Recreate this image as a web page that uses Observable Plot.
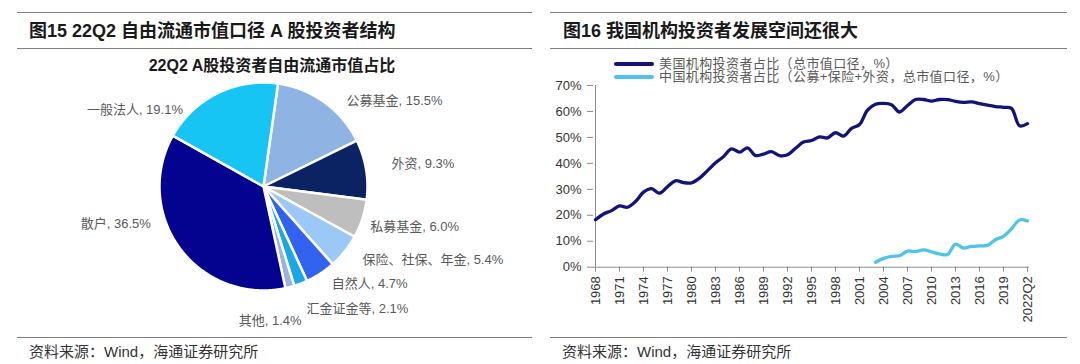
<!DOCTYPE html>
<html><head><meta charset="utf-8">
<script src="https://cdn.jsdelivr.net/npm/d3@7"></script>
<script src="https://cdn.jsdelivr.net/npm/@observablehq/plot@0.6"></script>
<style>
html,body{margin:0;padding:0;background:#fff;}
body{width:1080px;height:364px;overflow:hidden;position:relative;font-family:"Liberation Sans","Noto Sans CJK SC",sans-serif;}
.rule{position:absolute;height:0;border-top:1.5px solid #7f7f7f;}
.title{position:absolute;font-size:18px;font-weight:bold;color:#1a1a1a;white-space:nowrap;line-height:18px;}
.src{position:absolute;font-size:15px;color:#333;white-space:nowrap;line-height:15px;}
.pt{position:absolute;font-size:16px;font-weight:bold;color:#1a1a1a;white-space:nowrap;line-height:16px;text-align:center;}
.box{position:absolute;}
.lg{position:absolute;font-size:13px;color:#595959;white-space:nowrap;line-height:13px;letter-spacing:0.4px;}
.sw{position:absolute;height:4px;width:40px;border-radius:2px;}
</style></head>
<body>
<script>
// ---------- data: left pie ----------
const pieTitle = "22Q2 A股投资者自由流通市值占比";
const pieNames = ["公募基金","外资","私募基金","保险、社保、年金","自然人","汇金证金等","其他","散户","一般法人"];
const pieValues = [15.5, 9.3, 6.0, 5.4, 4.7, 2.1, 1.4, 36.5, 19.1];
const pieColors = ["#8DB4E2","#0C2363","#BEBEBE","#9CC8F8","#3163F0","#18A8E6","#9DB0DF","#03038F","#17C5F4"];

// ---------- data: right lines ----------
const categories = ["1968","1969","1970","1971","1972","1973","1974","1975","1976","1977","1978","1979",
  "1980","1981","1982","1983","1984","1985","1986","1987","1988","1989","1990","1991","1992","1993",
  "1994","1995","1996","1997","1998","1999","2000","2001","2002","2003","2004","2005","2006","2007",
  "2008","2009","2010","2011","2012","2013","2014","2015","2016","2017","2018","2019","2020","2021","2022Q2"];
const usValues = [18.3,20.5,21.8,23.6,23.1,25.3,28.9,30.3,28.5,31.0,33.3,32.6,
  32.5,34.3,37.2,40.2,42.6,45.6,44.3,46.0,43.0,43.6,44.5,43.0,43.3,45.8,
  48.2,48.8,50.2,49.8,51.8,50.5,53.5,55.0,60.5,62.8,63.1,62.6,59.8,62.3,
  64.6,64.6,64.0,64.6,64.6,63.9,63.5,63.7,63.0,62.4,61.9,61.6,61.2,54.5,55.3];
const cnCategories = categories.slice(categories.indexOf("2003"));
const cnValues = [1.9,3.4,4.2,4.4,6.2,6.0,6.7,5.9,5.1,4.9,8.9,7.4,8.0,8.2,8.4,10.6,11.9,14.8,18.2,17.8];
const yTicks = [0,10,20,30,40,50,60,70];
const xTicks = categories.filter((d,i)=> i % 3 === 0);
const usLabel = "美国机构投资者占比（总市值口径，%）";
const cnLabel = "中国机构投资者占比（公募+保险+外资，总市值口径，%）";
const titleL = "图15 22Q2 自由流通市值口径 A 股投资者结构";
const titleR = "图16 我国机构投资者发展空间还很大";
const source = "资料来源：Wind，海通证券研究所";

const FONT = '"Liberation Sans","Noto Sans CJK SC",sans-serif';
const US_COLOR = "#13137C", CN_COLOR = "#50C3EB";

function el(cls, css, text){ const d=document.createElement("div"); d.className=cls; Object.assign(d.style, css); if(text!=null) d.textContent=text; document.body.appendChild(d); return d; }

// frame rules / titles / sources
[12,48,337].forEach(y=>el("rule",{left:"17px",top:y+"px",width:"515px"}));
[12,48,337].forEach(y=>el("rule",{left:"550px",top:y+"px",width:"517px"}));
el("title",{left:"29px",top:"22px"},titleL);
el("title",{left:"563px",top:"22px"},titleR);
el("src",{left:"29px",top:"344px"},source);
el("src",{left:"562px",top:"344px"},source);
el("pt",{left:"0px",top:"58px",width:"544px"},pieTitle);

// ---------- pie ----------
const PW=515, PH=275, PCX=246, PCY=131, R=104;
const table = pieNames.map((n,i)=>({name:n, value:pieValues[i], color:pieColors[i]}));
const start = 8*Math.PI/180;
const arcs = d3.pie().sort(null).value(d=>d.value).startAngle(start).endAngle(start+2*Math.PI)(table);
const sliceMarks = arcs.map(a=>{
  const n = Math.max(4, Math.ceil((a.endAngle-a.startAngle)/(Math.PI/360)));
  const pts=[{x:0,y:0}];
  for(let k=0;k<=n;k++){ const t=a.startAngle+(a.endAngle-a.startAngle)*k/n; pts.push({x:Math.sin(t), y:Math.cos(t)}); }
  pts.push({x:0,y:0});
  return Plot.line(pts,{x:"x",y:"y",fill:a.data.color,stroke:"#fff",strokeWidth:2.5,strokeLinejoin:"round",curve:"linear"});
});
// label placement tweaks: [dx px, dy px, anchor side] relative to the computed outside anchor
const labelNudge = {"公募基金":[11,14,"start"],"外资":[7,-3,"start"],"私募基金":[-10,2,"start"],"保险、社保、年金":[3,-3,"start"],
  "自然人":[1,-5,"start"],"汇金证金等":[-1,8,"start"],"其他":[7,16,"end"],"散户":[-14,-36,"end"],"一般法人":[-26,33,"end"]};
const labels = arcs.map(a=>{
  const m=(a.startAngle+a.endAngle)/2, r=1.18, nd=labelNudge[a.data.name]||[0,0,"start"];
  return {text:`${a.data.name}, ${a.data.value.toFixed(1)}%`, x:Math.sin(m)*r+nd[0]/R, y:Math.cos(m)*r-nd[1]/R, anchor:nd[2]};
});
const pie = Plot.plot({
  width:PW, height:PH, margin:0,
  x:{domain:[-PCX/R,(PW-PCX)/R], axis:null},
  y:{domain:[-(PH-PCY)/R, PCY/R], axis:null},
  style:{background:"transparent", fontFamily:FONT, fontSize:"13px"},
  marks:[
    ...sliceMarks,
    Plot.text(labels.filter(d=>d.anchor==="start"),{x:"x",y:"y",text:"text",textAnchor:"start",fill:"#595959",fontSize:13}),
    Plot.text(labels.filter(d=>d.anchor==="end"),{x:"x",y:"y",text:"text",textAnchor:"end",fill:"#595959",fontSize:13})
  ]
});
const pbox = el("box",{left:"17px",top:"55px"}); pbox.appendChild(pie);

// ---------- line chart ----------
const usTable = categories.map((c,i)=>({cat:c, v:usValues[i]}));
const cnTable = cnCategories.map((c,i)=>({cat:c, v:cnValues[i]}));
const line = Plot.plot({
  width:530, height:280, marginLeft:53, marginRight:41, marginTop:30, marginBottom:68.3,
  x:{type:"point", domain:categories, padding:0},
  y:{domain:[yTicks[0], yTicks[yTicks.length-1]]},
  style:{background:"transparent", fontFamily:FONT, fontSize:"13px"},
  marks:[
    Plot.axisY({ticks:yTicks, tickFormat:d=>d+"%", tickSize:6, tickPadding:6, stroke:"#8c8c8c", fill:"#333", label:null}),
    Plot.axisX({ticks:xTicks, tickRotate:-90, tickSize:5, tickPadding:4, stroke:"#8c8c8c", fill:"#333", label:null}),
    Plot.ruleY([yTicks[0]],{stroke:"#8c8c8c"}),
    Plot.ruleX([categories[0]],{y1:yTicks[0], y2:yTicks[yTicks.length-1], stroke:"#8c8c8c"}),
    Plot.line(usTable,{x:"cat",y:"v",stroke:US_COLOR,strokeWidth:3.3,curve:"catmull-rom"}),
    Plot.line(cnTable,{x:"cat",y:"v",stroke:CN_COLOR,strokeWidth:3.3,curve:"catmull-rom"})
  ]
});
const lbox = el("box",{left:"540px",top:"55px"}); lbox.appendChild(line);

// legend
el("sw",{left:"614px",top:"62px",background:US_COLOR});
el("lg",{left:"659px",top:"57px"},usLabel);
el("sw",{left:"614px",top:"75px",background:CN_COLOR});
el("lg",{left:"659px",top:"70px"},cnLabel);
</script>
</body></html>
